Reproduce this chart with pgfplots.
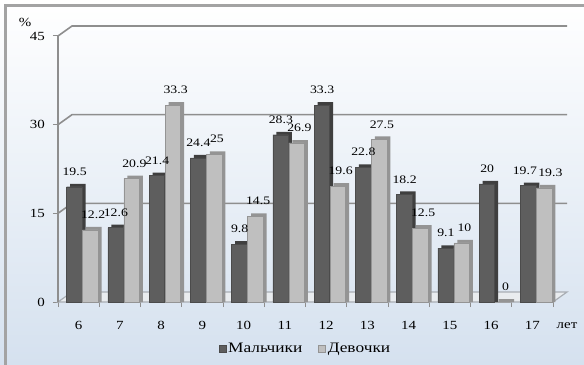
\documentclass[border=0pt]{standalone}
\usepackage{fontspec}
\setmainfont{Liberation Serif}[FakeStretch=1.2]
\usepackage{pgfplots}
\pgfplotsset{compat=1.18}
\usepackage{pgfplotstable}

\definecolor{boyface}{HTML}{5E5E5E}
\definecolor{boyside}{HTML}{3F3F3F}
\definecolor{girlface}{HTML}{BFBFBF}
\definecolor{girlside}{HTML}{949494}
\definecolor{gridgray}{HTML}{8E8E8E}
\definecolor{bgblue}{HTML}{D5E1EF}
\definecolor{framegray}{HTML}{A3A3A3}
\definecolor{floortop}{HTML}{E9ECEF}
\definecolor{flooredge}{HTML}{A9AEB4}

% share (%) of boys and girls by age
\pgfplotstableread{
idx age boys girls
0   6   19.5 12.2
1   7   12.6 20.9
2   8   21.4 33.3
3   9   24.4 25
4   10  9.8  14.5
5   11  28.3 26.9
6   12  33.3 19.6
7   13  22.8 27.5
8   14  18.2 12.5
9   15  9.1  10
10  16  20   0
11  17  19.7 19.3
}\data

\begin{document}
\fontsize{12.5}{14}\selectfont
\begin{tikzpicture}
\useasboundingbox (0,0) rectangle (584bp,365bp);
\shade[top color=white, middle color=bgblue!30!white, bottom color=bgblue]
  (0,0) rectangle (584bp,365bp);
\draw[framegray, line width=2.5bp] (5.5bp,0) -- (5.5bp,359.5bp) -- (584bp,359.5bp);

\begin{axis}[
  at={(58bp,63bp)}, anchor=south west,
  scale only axis, width=495bp, height=266bp,
  xmin=-0.5, xmax=11.5, ymin=0, ymax=45,
  clip=false,
  axis line style={draw=none},
  /pgf/number format/assume math mode=true,
  tick pos=left, tick align=outside,
  major tick length=5bp,
  tick style={gridgray, line width=1bp},
  xtick={-0.5,0.5,...,11.5}, xticklabels={},
  extra x ticks={0,1,2,3,4,5,6,7,8,9,10,11},
  extra x tick labels={6,7,8,9,10,11,12,13,14,15,16,17},
  extra x tick style={major tick length=0pt,
    xticklabel style={anchor=north, inner sep=0pt, yshift=-19bp}},
  ytick={0,15,30,45},
  yticklabel style={anchor=east, inner sep=0pt, xshift=-8bp},
  legend style={at={(0.5,-0.177)}, anchor=center, draw=none, fill=none,
    font=\fontsize{14.5}{16}\selectfont,
    legend columns=2, /tikz/every even column/.append style={column sep=14bp}},
  legend image code/.code={\draw[#1] (0bp,-3.5bp) rectangle (7bp,3.5bp);},
  visualization depends on={\thisrow{idx} \as \ci},
  every node near coord/.append style={inner sep=0pt, yshift=11bp,
    font=\fontsize{11.5}{13}\selectfont,
    /pgf/number format/assume math mode=true},
]
% back wall gridlines
\foreach \v in {15,30,45} {
  \edef\temp{\noexpand\draw[gridgray, line width=1.6bp]
    (axis cs:-0.5,\v) -- ++(14bp,10bp) -- ([shift={(14bp,10bp)}]axis cs:11.5,\v);}
  \temp
}
% floor
\filldraw[fill=floortop, draw=flooredge, line width=1.2bp]
  (axis cs:-0.5,0) -- ++(14bp,10bp) -- ([shift={(14bp,10bp)}]axis cs:11.5,0)
  -- (axis cs:11.5,0) -- cycle;
% y axis
\draw[gridgray, line width=1.5bp] (axis cs:-0.5,0) -- (axis cs:-0.5,45);

% bar depth (top and side faces)
\addplot[ybar, bar width=15.5bp, bar shift=-0.7bp, fill=boyside, draw=none, forget plot]
  table[x=idx, y expr=\thisrow{boys}+0.5] {\data};
\addplot[ybar, bar width=15.5bp, bar shift=15.3bp, fill=girlside, draw=none, forget plot]
  table[x=idx, y expr=\thisrow{girls}+0.5] {\data};
% bar fronts, value labels placed over each bar (pair at 17 spread apart)
\addplot[ybar, bar width=15.5bp, bar shift=-4.2bp, fill=boyface, draw=boyface!80!black,
  line width=0.4bp, nodes near coords,
  every node near coord/.append style={xshift={-4bp-3.5bp*(\ci==11)}}]
  table[x=idx, y=boys] {\data};
\addplot[ybar, bar width=15.5bp, bar shift=11.8bp, fill=girlface, draw=girlside,
  line width=0.4bp, nodes near coords,
  every node near coord/.append style={xshift={14.5bp+3.5bp*(\ci==11)}}]
  table[x=idx, y=girls] {\data};
\legend{Мальчики, Девочки}

\node at (rel axis cs:0,1) [xshift=-33bp, yshift=14bp] {\%};
\node at (axis cs:11.5,0) [xshift=14bp, yshift=-24bp] {лет};
\end{axis}
\end{tikzpicture}
\end{document}
